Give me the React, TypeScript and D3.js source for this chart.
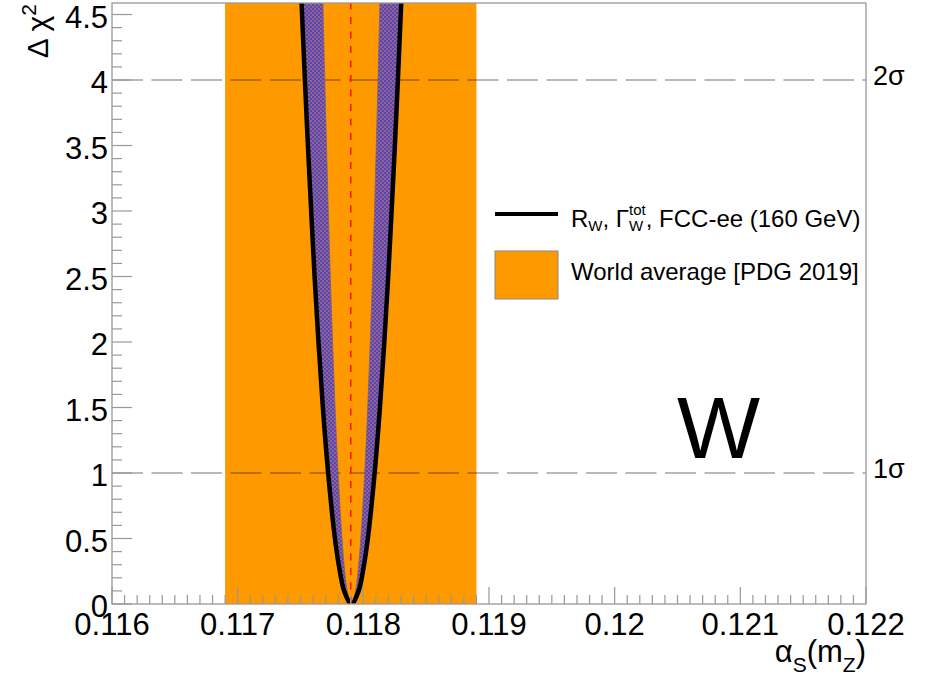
import React from "react";
import * as d3 from "d3";

// ---- Data ----
const dchi2Levels = [0, 0.1, 0.25, 0.5, 1, 1.5, 2, 2.5, 3, 3.5, 4, 4.6];
const outerLeft = [0.117905, 0.117847, 0.117813, 0.117774, 0.11772, 0.117678, 0.117643, 0.117612, 0.117585, 0.117559, 0.117535, 0.117508];
const outerRight = [0.117905, 0.117963, 0.117997, 0.118036, 0.11809, 0.118132, 0.118167, 0.118198, 0.118225, 0.118251, 0.118275, 0.118302];
const innerLeft = [0.117905, 0.117872, 0.117852, 0.11783, 0.117799, 0.117775, 0.117755, 0.117737, 0.117721, 0.117707, 0.117693, 0.117678];
const innerRight = [0.117905, 0.117938, 0.117958, 0.11798, 0.118011, 0.118035, 0.118055, 0.118073, 0.118089, 0.118103, 0.118117, 0.118132];

const pdgBand = [0.1169, 0.1189];
const pdgCentral = 0.1179;

const xTicks = [0.116, 0.117, 0.118, 0.119, 0.12, 0.121, 0.122];
const xTickLabels = ["0.116", "0.117", "0.118", "0.119", "0.12", "0.121", "0.122"];
const yTicks = [0, 0.5, 1, 1.5, 2, 2.5, 3, 3.5, 4, 4.5];
const yTickLabels = ["0", "0.5", "1", "1.5", "2", "2.5", "3", "3.5", "4", "4.5"];
const sigmaLevels = [1, 4];
const sigmaLabels = ["1σ", "2σ"];

const X_DOMAIN = [0.116, 0.122];
const Y_DOMAIN = [0, 4.588];

const FONT = "'Liberation Sans', Arial, Helvetica, sans-serif";

export default function App() {
  const left = 112, right = 866, top = 3, bottom = 604;
  const x = d3.scaleLinear().domain(X_DOMAIN).range([left, right]);
  const y = d3.scaleLinear().domain(Y_DOMAIN).range([bottom, top]);

  const n = dchi2Levels.length;
  const outerPts: [number, number][] = [];
  for (let i = n - 1; i >= 0; i--) outerPts.push([outerLeft[i], dchi2Levels[i]]);
  for (let i = 1; i < n; i++) outerPts.push([outerRight[i], dchi2Levels[i]]);
  const innerPtsRev: [number, number][] = [];
  for (let i = n - 1; i >= 0; i--) innerPtsRev.push([innerRight[i], dchi2Levels[i]]);
  for (let i = 1; i < n; i++) innerPtsRev.push([innerLeft[i], dchi2Levels[i]]);

  const line = d3
    .line<[number, number]>()
    .x((d) => x(d[0]))
    .y((d) => y(d[1]))
    .curve(d3.curveCatmullRom.alpha(0.5));

  const outerPath = line(outerPts) || "";
  const innerPath = (line(innerPtsRev) || "").replace(/^M/, "L");
  const bandPath = outerPath + innerPath + "Z";

  const xMinor = d3.range(0, 61).map((i) => X_DOMAIN[0] + i * 0.0001);
  const yMinor = d3.range(0, 46).map((i) => i * 0.1);

  const frameColor = "#999999";

  return (
    <svg
      width={926}
      height={685}
      style={{ position: "absolute", left: 0, top: 0, background: "#fff" }}
      fontFamily={FONT}
    >
      <defs>
        <clipPath id="frameClip">
          <rect x={left} y={top} width={right - left} height={bottom - top} />
        </clipPath>
        <pattern id="hatch" width={4} height={4} patternUnits="userSpaceOnUse">
          <rect x={0} y={0} width={4} height={4} fill="#8e6490" />
          <rect x={0} y={0} width={2} height={2} fill="#5a44b4" />
          <rect x={2} y={2} width={2} height={2} fill="#5a44b4" />
        </pattern>
      </defs>
      <rect x={0} y={0} width={926} height={685} fill="#fff" />

      <g clipPath="url(#frameClip)">
        {/* PDG world average band */}
        <rect
          x={x(pdgBand[0])}
          y={top}
          width={x(pdgBand[1]) - x(pdgBand[0])}
          height={bottom - top}
          fill="#ff9900"
        />
        {/* sigma lines */}
        {sigmaLevels.map((s) => (
          <line
            key={s}
            x1={left}
            x2={right}
            y1={y(s)}
            y2={y(s)}
            stroke="#000"
            strokeOpacity={0.37}
            strokeWidth={1.5}
            strokeDasharray="31 8.5"
          />
        ))}
        {/* hatched band */}
        <path d={bandPath} fill="url(#hatch)" stroke="#7a6080" strokeWidth={0.8} />
        {/* chi2 curve */}
        <path d={outerPath} fill="none" stroke="#000" strokeWidth={4.5} strokeLinejoin="round" />
        {/* central value */}
        <line
          x1={x(pdgCentral)}
          x2={x(pdgCentral)}
          y1={y(0)}
          y2={y(Y_DOMAIN[1])}
          stroke="#ff1a00"
          strokeWidth={1.6}
          strokeDasharray="7 7.5"
        />
      </g>

      {/* frame */}
      <rect
        x={left}
        y={top}
        width={right - left}
        height={bottom - top}
        fill="none"
        stroke={frameColor}
        strokeWidth={1.3}
      />

      {/* x ticks */}
      {xMinor.map((v, i) => {
        const major = i % 10 === 0;
        return (
          <line
            key={"xm" + i}
            x1={x(v)}
            x2={x(v)}
            y1={bottom}
            y2={bottom - (major ? 17 : 9)}
            stroke={frameColor}
            strokeWidth={1.2}
          />
        );
      })}
      {/* y ticks */}
      {yMinor.map((v, i) => {
        const major = i % 5 === 0;
        return (
          <line
            key={"ym" + i}
            x1={left}
            x2={left + (major ? 20 : 10)}
            y1={y(v)}
            y2={y(v)}
            stroke={frameColor}
            strokeWidth={1.2}
          />
        );
      })}

      {/* x tick labels */}
      {xTicks.map((v, i) => (
        <text key={"xl" + i} x={x(v)} y={635} fontSize={31} textAnchor="middle" fill="#000">
          {xTickLabels[i]}
        </text>
      ))}
      {/* y tick labels */}
      {yTicks.map((v, i) => (
        <text key={"yl" + i} x={108} y={y(v) + 13} fontSize={31} textAnchor="end" fill="#000">
          {yTickLabels[i]}
        </text>
      ))}

      {/* sigma labels */}
      {sigmaLevels.map((s, i) => (
        <text key={"sl" + i} x={873} y={y(s) + 4.5} fontSize={27} fill="#000">
          {sigmaLabels[i]}
        </text>
      ))}

      {/* axis titles */}
      <text x={866} y={662} fontSize={31} textAnchor="end" fill="#000">
        α<tspan fontSize={21} dy={10}>S</tspan>
        <tspan dy={-10}>(m</tspan>
        <tspan fontSize={21} dy={10}>Z</tspan>
        <tspan dy={-10}>)</tspan>
      </text>
      <text transform="translate(48,4) rotate(-90)" fontSize={30} textAnchor="end" fill="#000">
        Δ χ<tspan fontSize={21} dy={-12}>2</tspan>
      </text>

      {/* big W */}
      <text x={677} y={458} fontSize={88} fill="#000">
        W
      </text>

      {/* legend */}
      <line x1={495} x2={558} y1={214} y2={214} stroke="#000" strokeWidth={4} />
      <text x={571} y={227} fontSize={24} fill="#000">
        R<tspan fontSize={15} dy={4}>W</tspan>
        <tspan dy={-4}>, Γ</tspan>
        <tspan fontSize={15} dy={-12}>tot</tspan>
        <tspan fontSize={15} dx={-16.7} dy={16}>W</tspan>
        <tspan dx={2.5} dy={-4}>, FCC-ee (160 GeV)</tspan>
      </text>
      <rect x={495} y={251} width={63} height={48} fill="#ff9900" stroke="#888" strokeWidth={1} />
      <text x={571} y={280} fontSize={24} fill="#000">
        World average [PDG 2019]
      </text>
    </svg>
  );
}
